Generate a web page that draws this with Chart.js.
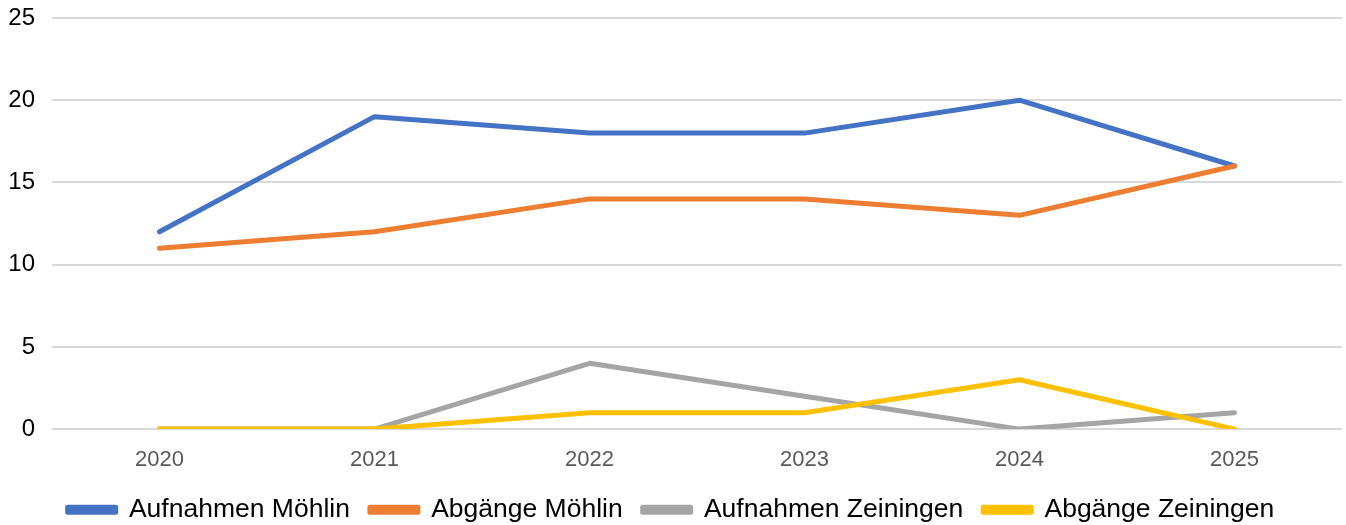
<!DOCTYPE html>
<html>
<head>
<meta charset="utf-8">
<script src="https://cdn.jsdelivr.net/npm/chart.js@4.4.1/dist/chart.umd.min.js"></script>
<style>
  html, body { margin: 0; padding: 0; background: #ffffff; }
  #wrap { width: 1346px; height: 525px; position: relative; }
</style>
</head>
<body>
<div id="wrap"><canvas id="chart"></canvas></div>
<script>
var years = ['2020', '2021', '2022', '2023', '2024', '2025'];
var aufnahmenMoehlin = [12, 19, 18, 18, 20, 16];
var abgaengeMoehlin = [11, 12, 14, 14, 13, 16];
var aufnahmenZeiningen = [0, 0, 4, 2, 0, 1];
var abgaengeZeiningen = [0, 0, 1, 1, 3, 0];
var yTicks = [0, 5, 10, 15, 20, 25];

var font = '"Liberation Sans", Arial, sans-serif';

function series(label, values, color, order) {
  return {
    label: label,
    data: values,
    borderColor: color,
    backgroundColor: color,
    borderWidth: 5,
    borderCapStyle: 'round',
    borderJoinStyle: 'round',
    pointRadius: 0,
    pointHoverRadius: 0,
    tension: 0,
    order: order
  };
}

var ctx = document.getElementById('chart');
new Chart(ctx, {
  type: 'line',
  data: {
    labels: years,
    datasets: [
      series('Aufnahmen Möhlin', aufnahmenMoehlin, '#4472C4', 4),
      series('Abgänge Möhlin', abgaengeMoehlin, '#ED7D31', 3),
      series('Aufnahmen Zeiningen', aufnahmenZeiningen, '#A5A5A5', 2),
      series('Abgänge Zeiningen', abgaengeZeiningen, '#FFC000', 1)
    ]
  },
  options: {
    responsive: true,
    maintainAspectRatio: false,
    animation: false,
    layout: { padding: { left: 0, right: 4, top: 0, bottom: -8 } },
    plugins: {
      tooltip: { enabled: false },
      legend: {
        position: 'bottom',
        labels: {
          boxWidth: 48,
          boxHeight: 5,
          padding: 20,
          color: '#000000',
          font: { family: font, size: 26.5 },
          sort: function (a, b) { return a.datasetIndex - b.datasetIndex; }
        }
      }
    },
    scales: {
      x: {
        offset: true,
        afterFit: function (axis) { axis.height = axis.height - 15; },
        grid: { display: false, drawTicks: false },
        border: { display: false },
        ticks: { color: '#595959', font: { family: font, size: 22 }, padding: 18 }
      },
      y: {
        min: 0,
        max: 25,
        afterBuildTicks: function (axis) {
          axis.ticks = yTicks.map(function (v) { return { value: v }; });
        },
        afterFit: function (axis) {
          axis.width = 52;
          axis.paddingTop = 18;
          axis.paddingBottom = 0;
        },
        grid: { color: '#D9D9D9', lineWidth: 2, drawTicks: false },
        border: { display: false },
        ticks: { color: '#000000', font: { family: font, size: 24 }, padding: 17 }
      }
    }
  }
});
</script>
</body>
</html>
